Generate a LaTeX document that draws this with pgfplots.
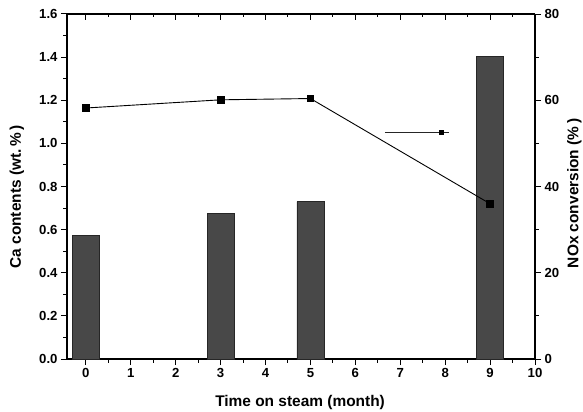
\documentclass[border=0pt]{standalone}
\usepackage{pgfplots}
\pgfplotsset{compat=1.18}
\usepackage{fontspec}
\setmainfont{Liberation Sans}
\definecolor{barfill}{HTML}{484848}
\begin{document}
\begin{tikzpicture}
\pgfplotsset{
  common/.style={
    scale only axis, width=468bp, height=345bp,
    xmin=-0.42, xmax=10,
    axis line style={-, line width=1.1bp, black},
    every tick/.style={black, line width=1bp},
    major tick length=6bp, minor tick length=3.5bp,
    tick label style={font=\fontsize{13.2}{15}\selectfont\bfseries},
    /pgf/number format/assume math mode=true,
    label style={font=\fontsize{15.5}{18}\selectfont\bfseries},
  }
}
% bars, left y axis, bottom x axis
\begin{axis}[common,
  ymin=0, ymax=1.6,
  axis x line*=bottom, axis y line*=left,
  tick align=outside,
  xtick={0,1,2,3,4,5,6,7,8,9,10},
  minor xtick={0.5,1.5,2.5,3.5,4.5,5.5,6.5,7.5,8.5,9.5},
  ytick={0,0.2,0.4,0.6,0.8,1.0,1.2,1.4,1.6},
  minor ytick={0.1,0.3,0.5,0.7,0.9,1.1,1.3,1.5},
  yticklabel style={/pgf/number format/fixed,/pgf/number format/fixed zerofill,/pgf/number format/precision=1},
  xlabel={Time on steam (month)},
  ylabel={Ca contents (wt.\,\%\,)},
  xlabel style={at={(axis description cs:0.498,-0.125)}, anchor=center},
  ylabel style={at={(axis description cs:-0.107,0.47)}, anchor=center},
  ybar, bar width=0.6,
]
\addplot[fill=barfill, draw=black!85, line width=0.6bp] coordinates {(0,0.572) (3,0.677) (5,0.730) (9,1.402)};
\end{axis}
% line, right y axis
\begin{axis}[common,
  ymin=0, ymax=80,
  axis x line=none, axis y line*=right,
  tick align=outside,
  ytick={0,20,40,60,80},
  minor ytick={10,30,50,70},
  ylabel={NOx conversion (\%\,)},
  ylabel style={at={(axis description cs:1.084,0.48)}, anchor=center},
]
\addplot[black, line width=0.9bp, mark=square*, mark size=3.4bp, mark options={solid}] coordinates {(0,58.2) (3,60.1) (5,60.4) (9,36.0)};
\addplot[black!85, line width=0.9bp, forget plot] coordinates {(6.66,52.6) (8.08,52.6)};
\addplot[black, only marks, mark=square*, mark size=1.8bp, forget plot] coordinates {(7.91,52.6)};
\end{axis}
% top ticks, inward
\begin{axis}[common,
  ymin=0, ymax=1,
  axis y line=none, axis x line*=top,
  tick align=inside,
  xtick={0,1,2,3,4,5,6,7,8,9,10},
  minor xtick={0.5,1.5,2.5,3.5,4.5,5.5,6.5,7.5,8.5,9.5},
  xticklabels={},
]
\addplot[draw=none] coordinates {(0,0)};
\end{axis}
\pgfresetboundingbox
\path[use as bounding box] (-67bp,-53bp) rectangle (516bp,359bp);
\end{tikzpicture}
\end{document}
